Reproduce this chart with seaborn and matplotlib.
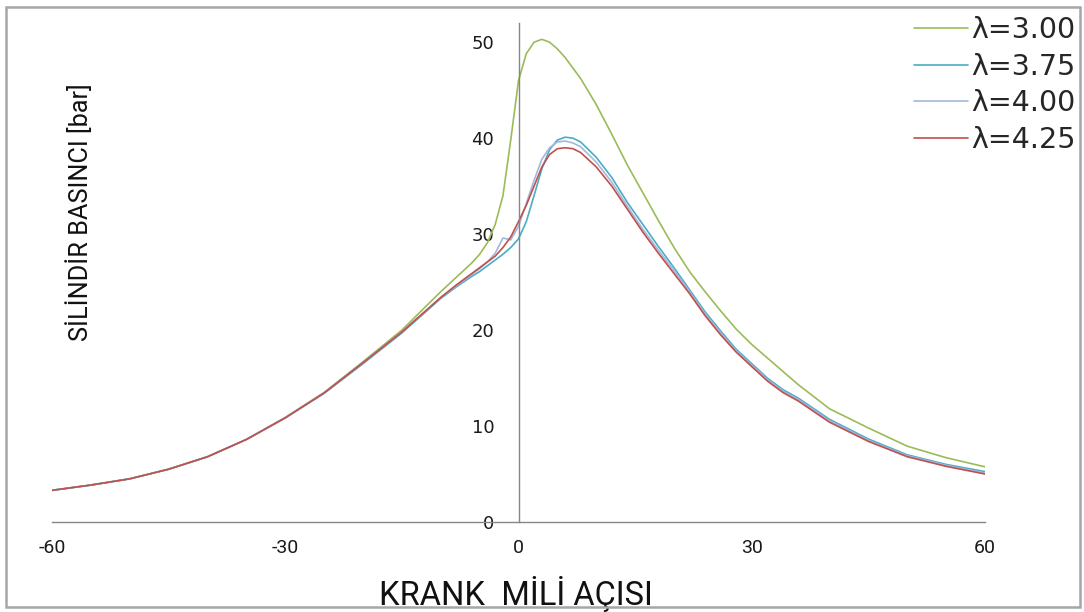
import numpy as np
import pandas as pd
import matplotlib
matplotlib.use("Agg")
import matplotlib.pyplot as plt
from matplotlib.patches import Rectangle
import seaborn as sns

# ---- data ----
angle = [-60, -55, -50, -45, -40, -35, -30, -25, -20, -15, -10, -8, -6, -5, -4, -3, -2, -1,
         0, 1, 2, 3, 4, 5, 6, 7, 8, 10, 12, 14, 16, 18, 20, 22, 24, 26, 28, 30, 32, 34, 36,
         40, 45, 50, 55, 60]

p_300 = [3.3, 3.85, 4.5, 5.5, 6.8, 8.6, 10.9, 13.5, 16.7, 20.0, 24.0, 25.5, 27.0, 27.9, 29.1, 31.0, 34.0, 39.8,
         46.0, 48.8, 50.0, 50.3, 50.0, 49.3, 48.4, 47.3, 46.2, 43.5, 40.4, 37.2, 34.3, 31.4, 28.6, 26.1, 24.0, 22.0, 20.1, 18.5, 17.1, 15.7, 14.3,
         11.8, 9.8, 7.9, 6.7, 5.75]
p_375 = [3.3, 3.85, 4.5, 5.5, 6.8, 8.6, 10.85, 13.4, 16.5, 19.7, 23.3, 24.5, 25.6, 26.1, 26.7, 27.3, 27.9, 28.6,
         29.5, 31.3, 34.0, 36.8, 38.8, 39.8, 40.1, 40.0, 39.6, 38.0, 35.9, 33.3, 31.0, 28.7, 26.5, 24.2, 21.9, 19.9, 18.0, 16.5, 15.0, 13.8, 12.9,
         10.7, 8.65, 7.0, 6.0, 5.25]
p_400 = [3.3, 3.85, 4.5, 5.5, 6.8, 8.6, 10.85, 13.45, 16.6, 19.8, 23.4, 24.6, 25.8, 26.4, 27.1, 28.0, 29.6, 29.4,
         30.8, 33.2, 35.6, 37.8, 39.0, 39.6, 39.7, 39.5, 39.1, 37.5, 35.4, 32.9, 30.5, 28.3, 26.2, 24.0, 21.7, 19.7, 17.85, 16.35, 14.85, 13.65, 12.75,
         10.55, 8.5, 6.9, 5.9, 5.1]
p_425 = [3.3, 3.85, 4.5, 5.5, 6.8, 8.6, 10.85, 13.45, 16.6, 19.8, 23.4, 24.7, 25.9, 26.5, 27.1, 27.7, 28.6, 29.7,
         31.3, 33.0, 35.0, 37.0, 38.3, 38.9, 39.0, 38.9, 38.5, 37.0, 35.0, 32.6, 30.2, 28.0, 25.9, 23.8, 21.5, 19.5, 17.7, 16.2, 14.7, 13.5, 12.6,
         10.4, 8.4, 6.8, 5.8, 5.0]

labels = ["λ=3.00", "λ=3.75", "λ=4.00", "λ=4.25"]
series = [p_300, p_375, p_400, p_425]
colors = ["#9bbb59", "#4bacc6", "#a3b8dc", "#c0504d"]

df = pd.concat([pd.DataFrame({"angle": angle, "pressure": s, "lam": l})
                for s, l in zip(series, labels)], ignore_index=True)

sns.set_style("white")
plt.rcParams["font.family"] = ["DejaVu Sans"]
plt.rcParams["axes.unicode_minus"] = False

fig = plt.figure(figsize=(10.84, 6.12), dpi=100)
ax = fig.add_axes([52/1084, 1-522/612, (985-52)/1084, (522-23)/612])

sns.lineplot(data=df, x="angle", y="pressure", hue="lam", palette=dict(zip(labels, colors)),
             hue_order=labels, linewidth=1.2, ax=ax, legend=False, sort=False, estimator=None)

ax.set_xlim(-60, 60)
ax.set_ylim(0, 52)
ax.set_xticks([-60, -30, 0, 30, 60])
ax.set_yticks([0, 10, 20, 30, 40, 50])

for s in ["top", "right"]:
    ax.spines[s].set_visible(False)
ax.spines["left"].set_position(("data", 0))
ax.spines["left"].set_color("#868686")
ax.spines["bottom"].set_color("#868686")
ax.spines["left"].set_linewidth(1.0)
ax.spines["bottom"].set_linewidth(1.0)

narrow = ["Roboto", "DejaVu Sans"]
ax.tick_params(axis="x", direction="in", length=6, width=1.0, color="#868686", pad=12,
               labelsize=14)
ax.tick_params(axis="y", direction="out", length=6.5, width=1.0, color="#868686", pad=11,
               labelsize=13)
for t in ax.get_xticklabels():
    t.set_fontfamily(narrow)
    t.set_color("#1a1a1a")
for t in ax.get_yticklabels():
    t.set_color("#1a1a1a")

ax.set_xlabel("KRANK  MİLİ AÇISI", fontsize=23.5, family=narrow, color="#111111")
ax.xaxis.set_label_coords((516-52)/933, (522-594)/499)
ax.xaxis.label.set_va("center")
ax.set_ylabel("SİLİNDİR BASINCI [bar]", fontsize=18.2, family=narrow, color="#111111")
ax.yaxis.set_label_coords((80-52)/933, (522-212)/499)
ax.yaxis.label.set_va("center")

handles = [plt.Line2D([], [], color=c, lw=1.2) for c in colors]
fig.legend(handles, labels, loc="upper left", bbox_to_anchor=(914/1084, 1-16/612),
           frameon=False, fontsize=20.5, handlelength=1.9, handletextpad=0.1,
           labelspacing=0.3, borderpad=0.0, borderaxespad=0.0)

fig.patches.append(Rectangle((6/1084, 1-607/612), (1080-6)/1084, (607-7)/612,
                             transform=fig.transFigure, fill=False,
                             edgecolor="#a6a6a6", linewidth=1.8))

fig.savefig("out.png", dpi=100, facecolor="white")
